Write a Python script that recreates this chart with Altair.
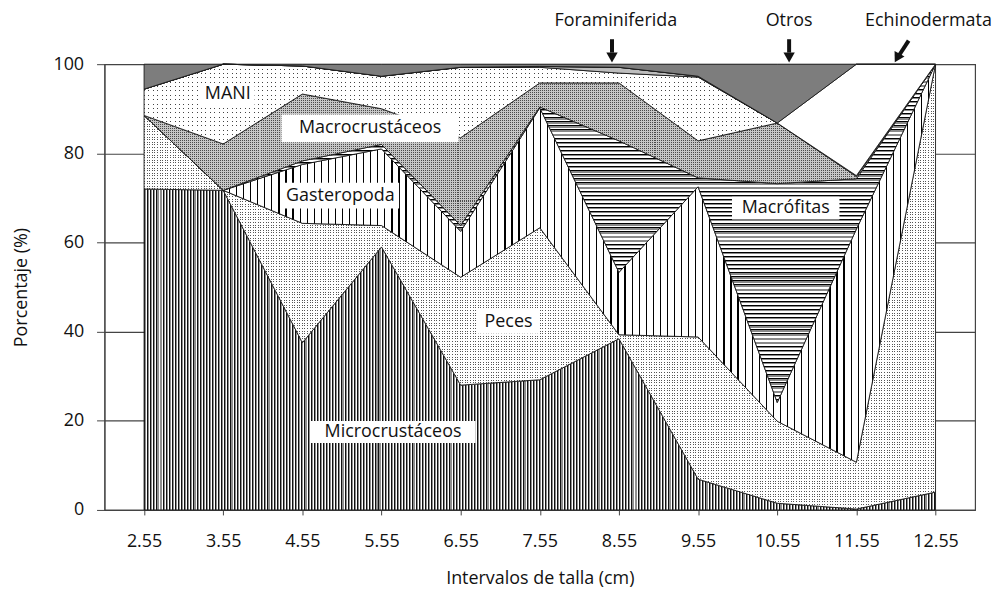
import altair as alt
import pandas as pd

# ---------------- data ----------------
x_vals = [2.55, 3.55, 4.55, 5.55, 6.55, 7.55, 8.55, 9.55, 10.55, 11.55, 12.55]

series_names = ["Microcrustáceos", "Peces", "Gasteropoda", "Macrófitas",
                "Macrocrustáceos", "MANI", "Foraminiferida", "Echinodermata", "Otros"]

microcrustaceos = [72.0, 71.7, 37.5, 59.0, 28.0, 29.2, 38.4, 6.9, 1.5, 0.2, 4.0]
peces           = [16.5, 0.0, 26.8, 4.8, 24.2, 34.1, 0.9, 31.9, 18.4, 10.5, 96.0]
gasteropoda     = [0.0, 0.0, 13.2, 17.2, 10.3, 26.9, 14.0, 33.7, 4.2, 52.3, 0.0]
macrofitas      = [0.0, 0.0, 0.8, 1.0, 1.3, 0.2, 29.5, 2.0, 49.1, 11.3, 0.0]
macrocrustaceos = [0.0, 10.4, 15.0, 8.0, 19.7, 5.4, 13.0, 8.3, 13.6, 0.5, 0.0]
mani            = [5.9, 17.9, 6.3, 7.3, 15.8, 3.5, 2.2, 14.3, 0.0, 0.2, 0.0]
foraminiferida  = [0.0, 0.0, 0.0, 0.0, 0.0, 0.2, 1.3, 0.2, 0.0, 0.0, 0.0]
echinodermata   = [0.0, 0.0, 0.0, 0.0, 0.0, 0.0, 0.0, 0.0, 0.0, 25.0, 0.0]
otros           = [5.6, 0.0, 0.4, 2.7, 0.7, 0.5, 0.7, 2.7, 13.2, 0.0, 0.0]

series_values = [microcrustaceos, peces, gasteropoda, macrofitas, macrocrustaceos,
                 mani, foraminiferida, echinodermata, otros]

# in-plot labels
label_text = ["MANI", "Macrocrustáceos", "Gasteropoda", "Macrófitas", "Peces", "Microcrustáceos"]
label_x = [3.607, 5.405, 5.03, 10.657, 7.154, 5.695]
label_y = [93.3, 85.6, 70.5, 67.7, 42.2, 17.5]
label_box_w = [54, 178, 118, 108, 62, 166]
label_box_h = [22, 28, 26, 23, 24, 22]

# labels above the plot with arrows
top_text = ["Foraminiferida", "Otros", "Echinodermata"]
top_x = [8.51, 10.70, 12.46]
top_y = [109.6, 109.6, 109.6]
arrow_x1 = [8.462, 10.70, 12.21]
arrow_x2 = [8.462, 10.70, 12.09]
arrow_y1 = [105.6, 105.6, 105.3]
arrow_y2 = [102.6, 102.6, 102.0]
head_x = [8.462, 10.70, 12.065]
head_y = [101.5, 101.5, 101.4]
head_angle = [0, 0, 29]

# ---------------- layout ----------------
PLOT_W, PLOT_H = 875, 448
X_DOMAIN = [2.05, 13.05]
PX_PER_Y = PLOT_H / 100.0
X_SPAN_PX = (x_vals[-1] - x_vals[0]) * PLOT_W / (X_DOMAIN[1] - X_DOMAIN[0])
FONT = "Open Sans"

rows = []
cum = [0.0] * len(x_vals)
for name, vals in zip(series_names, series_values):
    for i, (xv, v) in enumerate(zip(x_vals, vals)):
        rows.append({"x": xv, "serie": name, "lower": cum[i], "upper": cum[i] + v})
        cum[i] += v
df = pd.DataFrame(rows)

xaxis = alt.Axis(values=x_vals, format=".2f", title="Intervalos de talla (cm)", grid=False,
                 tickSize=5, labelPadding=18, labelFontSize=18, titleFontSize=18,
                 titleFontWeight="normal", titleX=437.5, titleY=69, titleBaseline="middle",
                 domainColor="#444", tickColor="#444", labelColor="#111", titleColor="#111")
yaxis = alt.Axis(values=[0, 20, 40, 60, 80, 100], title="Porcentaje (%)", grid=True,
                 gridColor="#444", gridWidth=1.2, tickSize=8, labelPadding=13,
                 labelFontSize=18, titleFontSize=18, titleFontWeight="normal",
                 titleX=-83, titleY=224, titleBaseline="middle",
                 domainColor="#444", tickColor="#444", labelColor="#111", titleColor="#111")
xscale = alt.Scale(domain=X_DOMAIN, nice=False, zero=False)
yscale = alt.Scale(domain=[0, 100], nice=False)


def xenc(field):
    return alt.X(f"{field}:Q", scale=xscale, axis=xaxis)


def yenc(field):
    return alt.Y(f"{field}:Q", scale=yscale, axis=yaxis)


def make_stops(pattern, span):
    stops = []
    pos = 0.0
    while pos < span - 1e-9:
        for c, w in pattern:
            a = pos / span
            b = min(pos + w, span) / span
            stops.append({"offset": round(a, 5), "color": c})
            stops.append({"offset": round(b, 5), "color": c})
            pos += w
            if pos >= span:
                break
    return stops


def vgrad(pattern, span):
    return {"gradient": "linear", "x1": 0, "x2": 1, "y1": 0, "y2": 0,
            "stops": make_stops(pattern, span)}


def hgrad(pattern, span):
    return {"gradient": "linear", "x1": 0, "x2": 0, "y1": 0, "y2": 1,
            "stops": make_stops(pattern, span)}


CLEAR = "rgba(255,255,255,0)"

styles = {
    "Microcrustáceos": [("v", [("#111111", 1.0), ("#8f8f8f", 1.1), ("#ffffff", 1.0)])],
    "Peces": [("h", [("#555555", 1.0), ("#ffffff", 1.6)]),
              ("v", [(CLEAR, 1.0), ("#ffffff", 1.6)])],
    "Gasteropoda": [("v", [("#000000", 1.2), ("#ffffff", 5.9)])],
    "Macrófitas": [("h", [("#000000", 0.9), ("#8a8a8a", 1.4), ("#ffffff", 1.8)])],
    "Macrocrustáceos": [("h", [("#4a4a4a", 1.0), ("#c6c6c6", 1.0)]),
                        ("v", [(CLEAR, 1.0), ("#c6c6c6", 1.0)])],
    "MANI": [("h", [("#444444", 1.0), ("#ffffff", 3.4)]),
             ("v", [(CLEAR, 1.0), ("#ffffff", 3.4)])],
    "Foraminiferida": [("c", "#bdbdbd")],
    "Echinodermata": [("c", "#ffffff")],
    "Otros": [("c", "#7d7d7d")],
}

layers = []
for name in series_names:
    sub = df[df["serie"] == name]
    hspan = (sub["upper"].max() - sub["lower"].min()) * PX_PER_Y
    hspan = max(hspan, 1.0)
    st = styles[name]
    for k, (kind, pat) in enumerate(st):
        last = k == len(st) - 1
        if kind == "v":
            fill = vgrad(pat, X_SPAN_PX)
        elif kind == "h":
            fill = hgrad(pat, hspan)
        else:
            fill = pat
        props = dict(fill=fill, opacity=1, interpolate="linear")
        if last:
            props.update(stroke="#1a1a1a", strokeWidth=0.9)
        else:
            props.update(strokeWidth=0)
        layers.append(
            alt.Chart(df).transform_filter(alt.datum.serie == name)
            .mark_area(**props)
            .encode(x=xenc("x"), y=yenc("upper"), y2="lower")
        )

# white label boxes + labels
lab_df = pd.DataFrame({"t": label_text, "x": label_x, "y": label_y,
                       "w": label_box_w, "h": label_box_h})
for i in range(len(label_text)):
    layers.append(
        alt.Chart(lab_df.iloc[[i]]).mark_rect(
            fill="white", width=label_box_w[i], height=label_box_h[i], opacity=1
        ).encode(x=xenc("x"), y=yenc("y"))
    )
layers.append(
    alt.Chart(lab_df).mark_text(fontSize=18, font=FONT, color="#111", align="center",
                                baseline="middle")
    .encode(x=xenc("x"), y=yenc("y"), text="t:N")
)

top_df = pd.DataFrame({"t": top_text, "x": top_x, "y": top_y})
layers.append(
    alt.Chart(top_df).mark_text(fontSize=18, font=FONT, color="#111", align="center",
                                baseline="middle")
    .encode(x=xenc("x"), y=yenc("y"), text="t:N")
)

arr_df = pd.DataFrame({"x1": arrow_x1, "x2": arrow_x2, "y1": arrow_y1, "y2": arrow_y2})
layers.append(
    alt.Chart(arr_df).mark_rule(color="#111", strokeWidth=4)
    .encode(x=xenc("x1"), x2="x2:Q", y=yenc("y1"), y2="y2:Q")
)
head_df = pd.DataFrame({"x": head_x, "y": head_y, "a": head_angle})
layers.append(
    alt.Chart(head_df).mark_point(shape="triangle-down", filled=True, size=130,
                                  color="#111", opacity=1)
    .encode(x=xenc("x"), y=yenc("y"), angle=alt.Angle("a:Q", scale=None))
)

chart = (
    alt.layer(*layers)
    .properties(width=PLOT_W, height=PLOT_H,
                autosize=alt.AutoSizeParams(type="none"),
                padding={"left": 97, "top": 55, "right": 22, "bottom": 80})
    .configure(font=FONT)
    .configure_view(stroke="#444", strokeWidth=1.2)
)

chart.save("out.html", embed_options={"renderer": "svg", "actions": False})
